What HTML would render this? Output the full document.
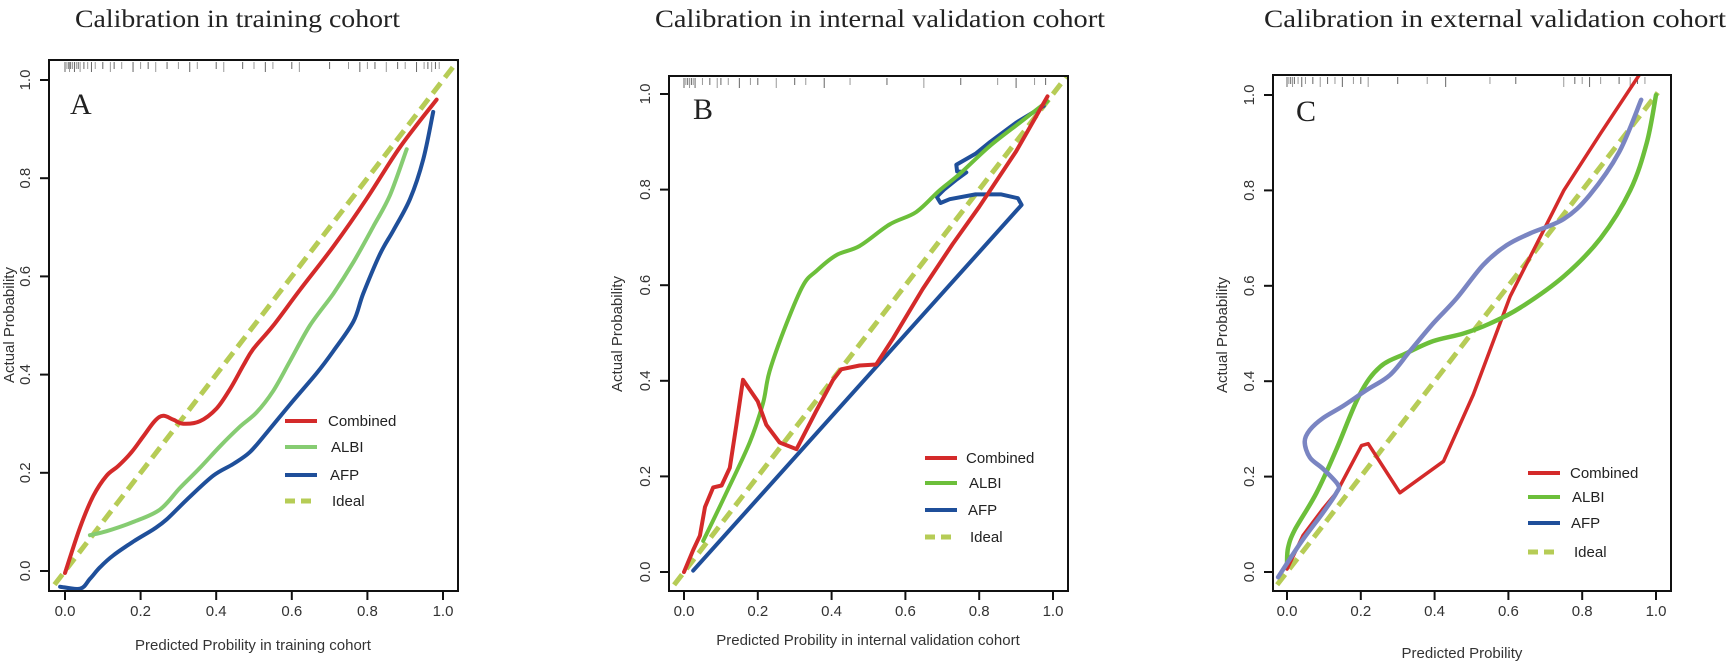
<!DOCTYPE html>
<html><head><meta charset="utf-8"><style>
html,body{margin:0;padding:0;background:#fff;}
svg{display:block;}
.t{font-family:"Liberation Serif",serif;font-size:25px;fill:#222;}
.s{font-family:"Liberation Sans",sans-serif;font-size:15px;fill:#333;}
.l{font-family:"Liberation Sans",sans-serif;font-size:15px;fill:#222;}
.pl{font-family:"Liberation Serif",serif;font-size:30px;fill:#222;}
</style></head><body>
<svg id="s" width="1732" height="669" viewBox="0 0 1732 669" xmlns="http://www.w3.org/2000/svg">
<text class="t" x="75" y="27" textLength="325" lengthAdjust="spacingAndGlyphs">Calibration in training cohort</text>
<text class="t" x="655" y="27" textLength="450" lengthAdjust="spacingAndGlyphs">Calibration in internal validation cohort</text>
<text class="t" x="1264" y="27" textLength="462" lengthAdjust="spacingAndGlyphs">Calibration in external validation cohort</text>

<text class="pl" x="70" y="114">A</text>
<text class="pl" x="693" y="119">B</text>
<text class="pl" x="1296" y="121">C</text>

<text class="s" transform="translate(14,325) rotate(-90)" text-anchor="middle">Actual Probability</text>
<text class="s" transform="translate(622,334) rotate(-90)" text-anchor="middle">Actual Probability</text>
<text class="s" transform="translate(1227,335) rotate(-90)" text-anchor="middle">Actual Probability</text>

<text class="s" x="253" y="650" text-anchor="middle">Predicted Probility in training cohort</text>
<text class="s" x="868" y="645" text-anchor="middle">Predicted Probility in internal validation cohort</text>
<text class="s" x="1462" y="658" text-anchor="middle">Predicted Probility</text>

<g class="l">
<text x="328" y="426">Combined</text><text x="331" y="452">ALBI</text><text x="330" y="480">AFP</text><text x="332" y="506">Ideal</text>
<text x="966" y="463">Combined</text><text x="969" y="488">ALBI</text><text x="968" y="515">AFP</text><text x="970" y="542">Ideal</text>
<text x="1570" y="478">Combined</text><text x="1572" y="502">ALBI</text><text x="1571" y="528">AFP</text><text x="1574" y="557">Ideal</text>
</g>
<g id="ticklabels" class="s"></g>
<g id="g"></g>
</svg>
<script>
var NS="http://www.w3.org/2000/svg",G=document.getElementById('g'),TL=document.getElementById('ticklabels');
function el(n,a,p){var e=document.createElementNS(NS,n);for(var k in a)e.setAttribute(k,a[k]);(p||G).appendChild(e);return e;}
var P={
A:{x0:65,xs:378,y0:571,ys:491,L:49,T:60,R:458,B:591,id:'cA'},
B:{x0:684,xs:369,y0:572,ys:478,L:669,T:76,R:1068,B:591,id:'cB'},
C:{x0:1287,xs:369,y0:572,ys:477,L:1273,T:75,R:1671,B:591,id:'cC'}};
var RED='#d42a2a',GRN='#6cbf3a',LGRN='#86cc72',BLU='#1f4f9a',PUR='#7a85c2',IDL='#b6cc56';
function path(p,pts,col,w,smooth,dash){
 var q=pts.map(function(d){return [p.x0+d[0]*p.xs,p.y0-d[1]*p.ys];});
 var s='M'+q[0][0].toFixed(1)+','+q[0][1].toFixed(1);
 if(smooth){for(var i=0;i<q.length-1;i++){var p0=q[i-1]||q[i],p1=q[i],p2=q[i+1],p3=q[i+2]||p2;
  s+='C'+(p1[0]+(p2[0]-p0[0])/6).toFixed(1)+','+(p1[1]+(p2[1]-p0[1])/6).toFixed(1)+' '+(p2[0]-(p3[0]-p1[0])/6).toFixed(1)+','+(p2[1]-(p3[1]-p1[1])/6).toFixed(1)+' '+p2[0].toFixed(1)+','+p2[1].toFixed(1);}}
 else for(var i=1;i<q.length;i++)s+='L'+q[i][0].toFixed(1)+','+q[i][1].toFixed(1);
 var a={d:s,fill:'none',stroke:col,'stroke-width':w,'stroke-linejoin':'round','stroke-linecap':dash?'butt':'round','clip-path':'url(#'+p.id+')'};
 if(dash)a['stroke-dasharray']=dash;el('path',a);}
var defs=el('defs',{});
var rugs={A:[0,.005,.01,.012,.015,.02,.025,.03,.035,.04,.05,.06,.07,.08,.1,.12,.13,.15,.18,.2,.22,.24,.27,.3,.33,.35,.4,.42,.47,.5,.53,.55,.6,.62,.7,.75,.78,.8,.82,.85,.88,.9,.93,.95,.96,.97,.98,.99],
B:[0,.005,.01,.015,.02,.025,.03,.05,.07,.09,.1,.12,.15,.18,.2,.25,.3,.33,.38,.45,.55,.65,.75,.85,.9,.95,.98],
C:[0,.005,.01,.015,.02,.03,.04,.05,.07,.09,.11,.13,.15,.18,.2,.22,.3,.38,.43,.55,.62,.75,.78,.8,.82,.85,.9,.93,.95,.97]};
['A','B','C'].forEach(function(k){var p=P[k];
 var cp=el('clipPath',{id:p.id},defs);el('rect',{x:p.L,y:p.T,width:p.R-p.L,height:p.B-p.T},cp);
 rugs[k].forEach(function(v,i){var x=p.x0+v*p.xs;el('line',{x1:x,x2:x,y1:p.T+2,y2:p.T+(i%3?9:12),stroke:i%2?'#999':'#666','stroke-width':1});});
 for(var i=0;i<=5;i++){var v=i/5,x=p.x0+v*p.xs,y=p.y0-v*p.ys;
  el('line',{x1:x,x2:x,y1:p.B,y2:p.B+9,stroke:'#111','stroke-width':2});
  var t=el('text',{x:x,y:616,'text-anchor':'middle'},TL);t.textContent=v.toFixed(1);
  el('line',{x1:p.L-9,x2:p.L,y1:y,y2:y,stroke:'#111','stroke-width':2});
  var t2=el('text',{transform:'translate('+(p.L-19)+','+y+') rotate(-90)','text-anchor':'middle'},TL);t2.textContent=v.toFixed(1);}
});
var A=P.A;
path(A,[[-0.06,-0.06],[1.06,1.06]],IDL,5,false,'13 7');
path(A,[[0.066,0.073],[0.11,0.081],[0.181,0.10],[0.251,0.125],[0.304,0.169],[0.357,0.21],[0.41,0.254],[0.463,0.294],[0.507,0.323],[0.551,0.367],[0.595,0.427],[0.648,0.5],[0.71,0.565],[0.763,0.629],[0.816,0.702],[0.86,0.766],[0.904,0.859]],LGRN,4,true);
path(A,[[-0.013,-0.032],[0.04,-0.036],[0.066,-0.016],[0.093,0.008],[0.128,0.032],[0.181,0.06],[0.234,0.085],[0.269,0.105],[0.322,0.145],[0.392,0.194],[0.445,0.218],[0.489,0.242],[0.534,0.282],[0.595,0.339],[0.666,0.403],[0.71,0.448],[0.763,0.508],[0.789,0.565],[0.833,0.645],[0.869,0.694],[0.913,0.758],[0.948,0.839],[0.974,0.935]],BLU,4,true);
path(A,[[0,-0.004],[0.04,0.089],[0.075,0.153],[0.11,0.194],[0.141,0.214],[0.176,0.242],[0.207,0.274],[0.238,0.306],[0.26,0.316],[0.287,0.308],[0.313,0.300],[0.357,0.305],[0.401,0.331],[0.437,0.371],[0.472,0.419],[0.498,0.452],[0.551,0.5],[0.622,0.573],[0.71,0.661],[0.798,0.758],[0.886,0.863],[0.983,0.96]],RED,4,true);
var B=P.B;
path(B,[[-0.06,-0.06],[1.06,1.06]],IDL,5,false,'13 7');
path(B,[[0.025,0.003],[0.915,0.768],[0.905,0.782],[0.86,0.79],[0.79,0.79],[0.72,0.78],[0.695,0.772],[0.685,0.785],[0.705,0.80],[0.74,0.822],[0.765,0.836],[0.74,0.838],[0.738,0.852],[0.79,0.875],[0.83,0.9],[0.9,0.94],[0.975,0.975]],BLU,4,false);
path(B,[[0.052,0.065],[0.115,0.166],[0.178,0.271],[0.214,0.353],[0.232,0.42],[0.277,0.518],[0.323,0.6],[0.359,0.63],[0.413,0.663],[0.476,0.682],[0.557,0.727],[0.629,0.753],[0.692,0.798],[0.746,0.832],[0.827,0.89],[0.91,0.94],[0.985,0.985]],GRN,4,true);
path(B,[[0,0],[0.025,0.046],[0.043,0.076],[0.057,0.136],[0.079,0.177],[0.102,0.181],[0.124,0.218],[0.142,0.308],[0.16,0.402],[0.2,0.357],[0.223,0.308],[0.259,0.271],[0.305,0.257],[0.359,0.338],[0.404,0.402],[0.426,0.424],[0.476,0.432],[0.521,0.434],[0.566,0.488],[0.647,0.592],[0.728,0.686],[0.8,0.764],[0.9,0.88],[0.985,0.995]],RED,4,false);
var C=P.C;
path(C,[[-0.06,-0.06],[1.005,1.005]],IDL,5,false,'13 7');
path(C,[[0,0.006],[0.043,0.076],[0.098,0.133],[0.134,0.166],[0.202,0.265],[0.22,0.269],[0.306,0.166],[0.424,0.232],[0.505,0.372],[0.605,0.578],[0.75,0.8],[0.85,0.92],[0.97,1.06]],RED,3.5,false);
path(C,[[0,0.018],[0.003,0.051],[0.021,0.088],[0.08,0.166],[0.134,0.257],[0.197,0.372],[0.252,0.43],[0.324,0.459],[0.396,0.484],[0.478,0.5],[0.55,0.521],[0.632,0.554],[0.75,0.62],[0.85,0.70],[0.93,0.80],[0.975,0.9],[1.0,1.0]],GRN,4.5,true);
path(C,[[-0.024,-0.011],[0,0.018],[0.043,0.068],[0.098,0.125],[0.134,0.166],[0.138,0.183],[0.098,0.216],[0.062,0.24],[0.048,0.273],[0.062,0.298],[0.098,0.323],[0.152,0.348],[0.215,0.381],[0.279,0.413],[0.333,0.463],[0.396,0.521],[0.46,0.574],[0.532,0.644],[0.595,0.685],[0.659,0.71],[0.75,0.74],[0.82,0.79],[0.9,0.88],[0.96,0.99]],PUR,4.5,true);
['A','B','C'].forEach(function(k){var p=P[k];el('rect',{x:p.L,y:p.T,width:p.R-p.L,height:p.B-p.T,fill:'none',stroke:'#111','stroke-width':2});});
function leg(x,ys,cols){cols.forEach(function(c,i){var a={x1:x,x2:x+32,y1:ys[i],y2:ys[i],stroke:c,'stroke-width':4};if(i==3){a['stroke-dasharray']='10 6';a['stroke-width']=5;}el('line',a);});}
leg(285,[421,447,475,501],[RED,LGRN,BLU,IDL]);
leg(925,[458,483,510,537],[RED,GRN,BLU,IDL]);
leg(1528,[473,497,523,552],[RED,GRN,BLU,IDL]);
</script>
</body></html>
